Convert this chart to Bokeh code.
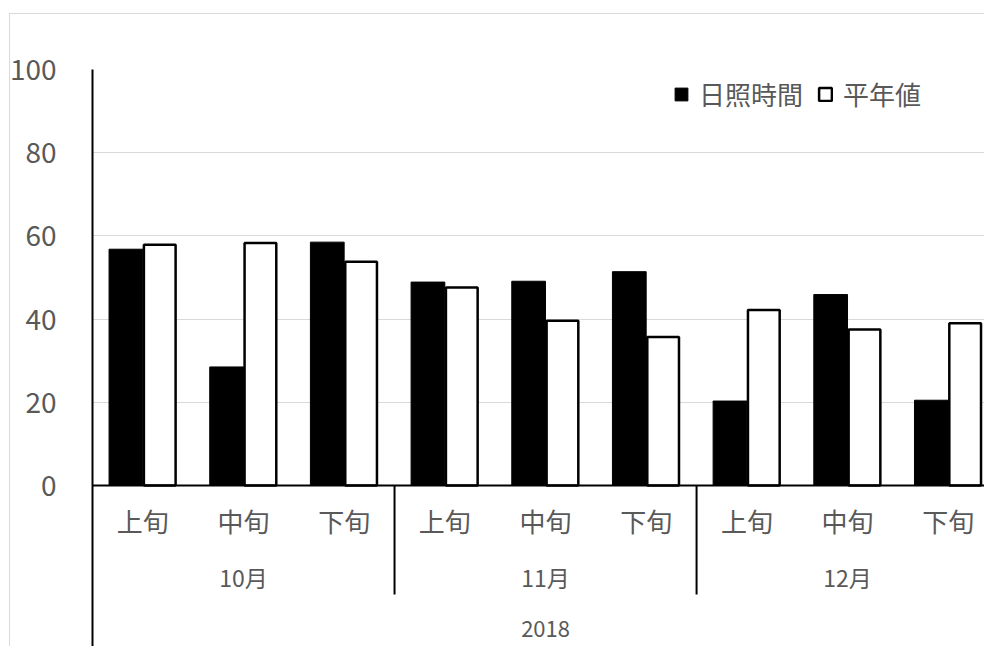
from bokeh.plotting import figure
from bokeh.models import ColumnDataSource, Range1d, FixedTicker, Legend, LegendItem
from bokeh.core.properties import value
from bokeh.transform import dodge
from bokeh.embed import file_html
from bokeh.resources import INLINE

# ---- data ----
year = "2018"
months = ["10月", "11月", "12月"]
decades = ["上旬", "中旬", "下旬"]
sunshine = [56.8, 28.5, 58.5, 48.9, 49.1, 51.4, 20.3, 45.9, 20.5]   # 日照時間
normal = [57.9, 58.3, 53.8, 47.6, 39.6, 35.7, 42.2, 37.5, 39.0]     # 平年値
y_ticks = [0, 20, 40, 60, 80, 100]

FONT = "Noto Sans CJK JP"
GRAY = "#595959"

n = len(months) * len(decades)
xc = [i + 0.5 for i in range(n)]
dec_labels = [decades[i % len(decades)] for i in range(n)]

src = ColumnDataSource(dict(x=xc, sun=sunshine, nor=normal, lab=dec_labels))

p = figure(width=984, height=646, output_backend="svg", toolbar_location=None,
           x_axis_type=None, x_range=Range1d(0, 8.86), y_range=Range1d(-38.7, 100),
           min_border_left=92, min_border_right=0, min_border_top=69, min_border_bottom=0)
p.outline_line_color = None
p.background_fill_color = "white"
p.border_fill_color = None

# y axis
p.yaxis.ticker = FixedTicker(ticks=y_ticks)
p.yaxis.axis_line_color = "black"
p.yaxis.axis_line_width = 2
p.yaxis.major_tick_line_color = None
p.yaxis.minor_tick_line_color = None
p.yaxis.major_label_standoff = 30
p.yaxis.major_label_text_font = FONT
p.yaxis.major_label_text_font_size = "28px"
p.yaxis.major_label_text_color = GRAY
p.ygrid.ticker = FixedTicker(ticks=y_ticks[1:])
p.ygrid.grid_line_color = "#d9d9d9"
p.ygrid.grid_line_width = 1

# bars
bw = 0.335
r1 = p.vbar(x=dodge("x", -0.168), top="sun", width=bw, source=src, fill_color="black",
            line_color="black", line_width=1)
r2 = p.vbar(x=dodge("x", 0.168), top="nor", width=bw - 0.02, source=src,
            fill_color="white", line_color="black", line_width=2.5)

# category axis drawn inside the frame
p.segment(x0=[0], y0=[0], x1=[p.x_range.end], y1=[0], line_color="black", line_width=2)
seps = [len(decades) * k for k in range(1, len(months))]
p.segment(x0=seps, y0=[0] * len(seps), x1=seps, y1=[-26.2] * len(seps),
          line_color="black", line_width=2)

p.text(x="x", y=-8.4, text="lab", source=src, text_align="center", text_baseline="middle",
       text_font=value(FONT), text_font_size="26px", text_color=GRAY)
mx = [len(decades) * k + len(decades) / 2 for k in range(len(months))]
p.text(x=mx, y=[-21.9] * len(months), text=months, text_align="center",
       text_baseline="middle", text_font=value(FONT), text_font_size="23px", text_color=GRAY)
p.text(x=[n / 2], y=[-34.6], text=[year], text_align="center", text_baseline="middle",
       text_font=value(FONT), text_font_size="22px", text_color=GRAY)

legend = Legend(items=[LegendItem(label="日照時間", renderers=[r1]),
                       LegendItem(label="平年値", renderers=[r2])],
                orientation="horizontal", location=(581, 534),
                glyph_width=16, glyph_height=16, label_standoff=10, spacing=14,
                padding=0, margin=0, border_line_color=None, background_fill_alpha=0,
                label_text_font=FONT, label_text_font_size="26px", label_text_color=GRAY)
p.add_layout(legend)

p.styles = {
    "background-color": "white",
    "background-image": "linear-gradient(#d9d9d9, #d9d9d9), linear-gradient(#d9d9d9, #d9d9d9)",
    "background-size": "100% 1px, 1px 100%",
    "background-position": "9px 13px, 9px 13px",
    "background-repeat": "no-repeat",
}

open("out.html", "w").write(file_html(p, INLINE))
